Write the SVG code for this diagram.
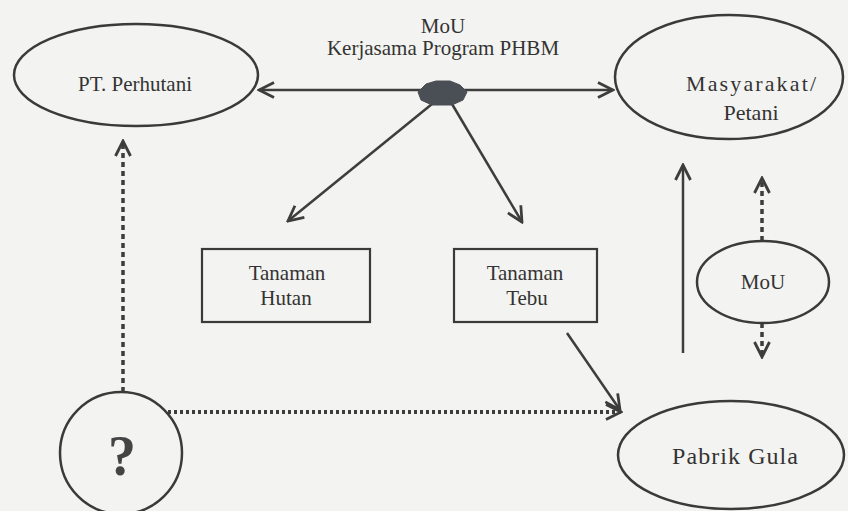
<svg xmlns="http://www.w3.org/2000/svg" width="848" height="511" viewBox="0 0 848 511">
<defs>
<style>
.bg{fill:#f3f3f1}
.node{fill:none;stroke:#3a3a3a;stroke-width:2.5}
.box{fill:none;stroke:#3a3a3a;stroke-width:2.2}
.t{font-family:"Liberation Serif","Times New Roman",serif;font-size:21px;fill:#333;text-anchor:middle}
.q{font-family:"Liberation Serif","Times New Roman",serif;font-size:56px;font-weight:bold;fill:#444;text-anchor:middle}
.ln{fill:none;stroke:#3d3d3d;stroke-width:2.5}
.dv{fill:none;stroke:#3d3d3d;stroke-width:3.5;stroke-dasharray:5 4}
.dh{fill:none;stroke:#3d3d3d;stroke-width:4;stroke-dasharray:3 3}
</style>
<marker id="ah" viewBox="0 0 18 18" refX="16" refY="9" markerWidth="18" markerHeight="18" markerUnits="userSpaceOnUse" orient="auto">
<path d="M1,1.5 L16,9 L1,16.5" fill="none" stroke="#3d3d3d" stroke-width="2.8"/>
</marker>
<marker id="ahs" viewBox="0 0 18 18" refX="16" refY="9" markerWidth="18" markerHeight="18" markerUnits="userSpaceOnUse" orient="auto-start-reverse">
<path d="M1,1.5 L16,9 L1,16.5" fill="none" stroke="#3d3d3d" stroke-width="2.8"/>
</marker>
</defs>
<rect class="bg" x="0" y="0" width="848" height="511"/>

<g id="connectors">
<line class="ln" x1="259" y1="90" x2="613" y2="90" marker-start="url(#ahs)" marker-end="url(#ah)"/>
<line class="ln" x1="432" y1="104" x2="288" y2="221" marker-end="url(#ah)"/>
<line class="ln" x1="452" y1="104" x2="522" y2="222" marker-end="url(#ah)"/>
<line class="ln" x1="567" y1="333" x2="620" y2="410" marker-end="url(#ah)"/>
<line class="ln" x1="683" y1="353" x2="683" y2="165" marker-end="url(#ah)"/>
<line class="dv" x1="123" y1="392" x2="123" y2="141" marker-end="url(#ah)"/>
<line class="dh" x1="168" y1="412" x2="621" y2="412" marker-end="url(#ah)"/>
<line class="dv" x1="762" y1="241" x2="762" y2="178" marker-end="url(#ah)"/>
<line class="dv" x1="762" y1="323" x2="762" y2="357" marker-end="url(#ah)"/>
</g>

<g id="hub">
<path d="M426,84 L436,81 L450,81 L460,85 L467,92 L463,100 L452,105 L432,105 L421,100 L418,92 Z" fill="#4a4e55" stroke="#4a4e55" stroke-width="1"/>
</g>

<g id="label-mou">
<text class="t" x="443" y="33">MoU</text>
<text class="t" x="443" y="55">Kerjasama Program PHBM</text>
</g>

<g id="perhutani">
<ellipse class="node" cx="136" cy="75" rx="122" ry="51"/>
<text class="t" x="135" y="91">PT. Perhutani</text>
</g>

<g id="masyarakat">
<ellipse class="node" cx="729" cy="77" rx="114" ry="62"/>
<text class="t" x="751" y="91" style="font-size:22px" textLength="130" lengthAdjust="spacing">Masyarakat/</text>
<text class="t" x="751" y="120" style="font-size:22px">Petani</text>
</g>

<g id="tanaman-hutan">
<rect class="box" x="202" y="249" width="168" height="73"/>
<text class="t" x="287" y="280">Tanaman</text>
<text class="t" x="286" y="305">Hutan</text>
</g>

<g id="tanaman-tebu">
<rect class="box" x="454" y="249" width="143" height="73"/>
<text class="t" x="525" y="280">Tanaman</text>
<text class="t" x="527" y="305">Tebu</text>
</g>

<g id="mou-small">
<ellipse class="node" cx="763" cy="282" rx="66" ry="41"/>
<text class="t" x="763" y="289">MoU</text>
</g>

<g id="unknown">
<circle class="node" cx="121" cy="453" r="61"/>
<text class="q" x="122" y="475">?</text>
</g>

<g id="pabrik-gula">
<ellipse class="node" cx="731" cy="455" rx="113" ry="54"/>
<text class="t" x="735" y="464" style="font-size:24px" textLength="126" lengthAdjust="spacing">Pabrik Gula</text>
</g>
</svg>
